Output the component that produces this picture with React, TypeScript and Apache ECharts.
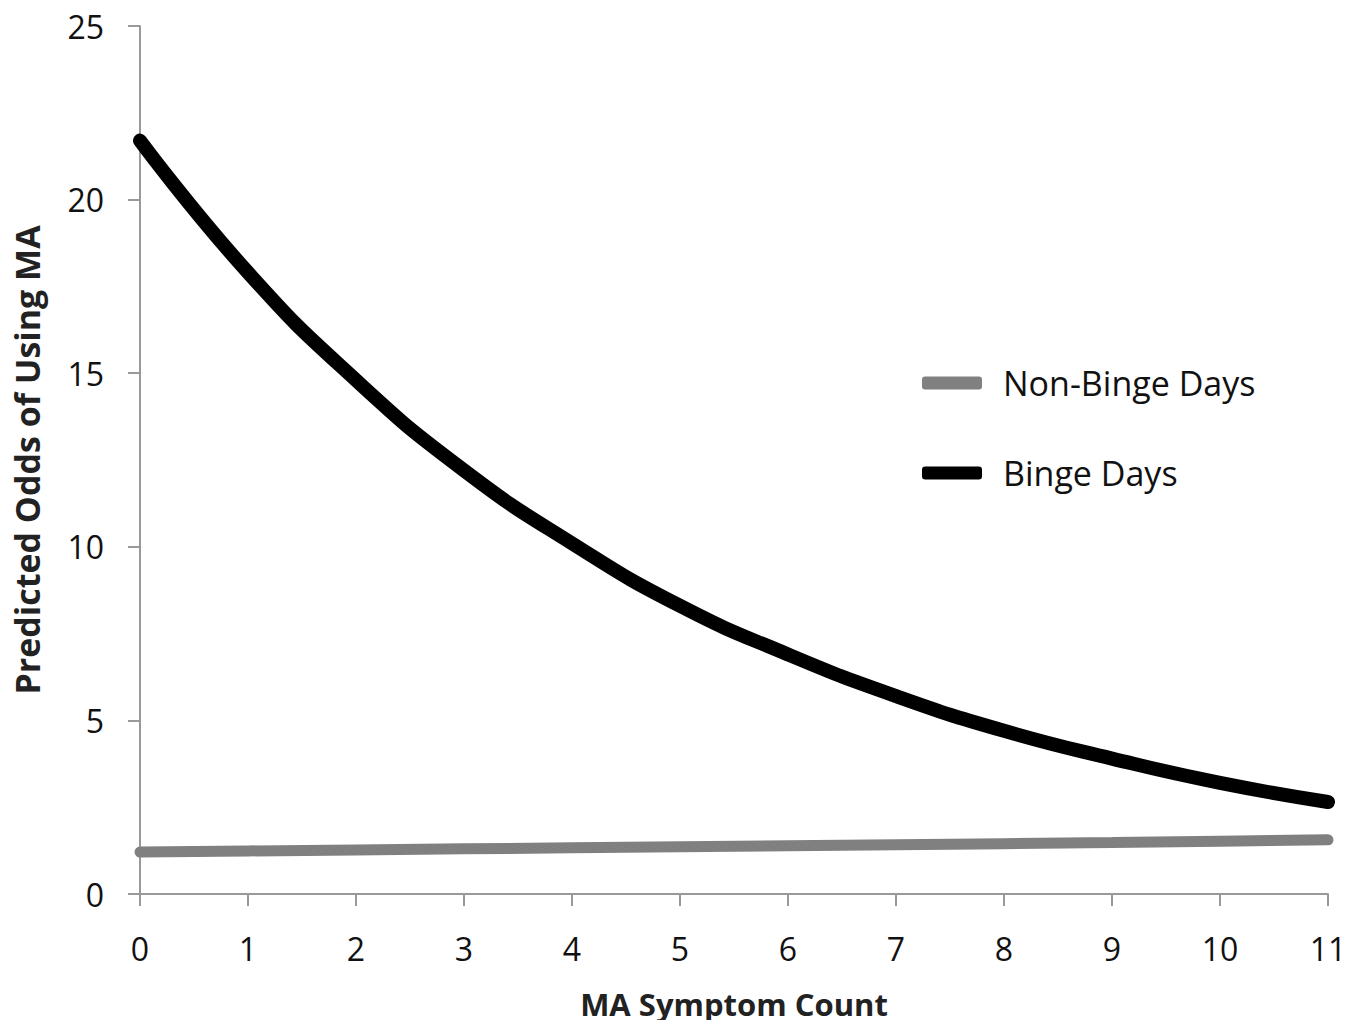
import React, { useEffect, useRef } from "react";
import * as echarts from "echarts";

const categories = ["0", "1", "2", "3", "4", "5", "6", "7", "8", "9", "10", "11"];
const nonBingeDays = [1.21, 1.24, 1.27, 1.3, 1.33, 1.36, 1.39, 1.42, 1.45, 1.48, 1.52, 1.56];
const bingeDays = [21.7, 17.9, 14.8, 12.2, 10.1, 8.3, 6.9, 5.7, 4.7, 3.9, 3.2, 2.65];
const yTicks = [0, 5, 10, 15, 20, 25];

const FONT = "'Open Sans', 'Noto Sans', sans-serif";

export default function App() {
  const ref = useRef<HTMLDivElement>(null);
  useEffect(() => {
    const chart = echarts.init(ref.current!, null, { renderer: "svg" });
    chart.setOption({
      animation: false,
      backgroundColor: "#ffffff",
      grid: { left: 140, right: 38, top: 26, bottom: 134, containLabel: false },
      legend: {
        orient: "vertical",
        left: 922,
        top: 366,
        padding: 0,
        itemWidth: 60,
        itemHeight: 13,
        itemGap: 56,
        icon: "roundRect",
        textStyle: { fontFamily: FONT, fontSize: 34, lineHeight: 34, color: "#111", padding: [0, 0, 0, 16] },
        data: ["Non-Binge Days", "Binge Days"],
      },
      xAxis: {
        type: "category",
        data: categories,
        boundaryGap: false,
        name: "MA Symptom Count",
        nameLocation: "middle",
        nameGap: 94,
        nameTextStyle: { fontFamily: FONT, fontSize: 31, lineHeight: 32, fontWeight: "bold", color: "#222" },
        axisLine: { lineStyle: { color: "#999", width: 2 } },
        axisTick: { show: true, alignWithLabel: true, length: 12, lineStyle: { color: "#999", width: 2 } },
        axisLabel: { fontFamily: FONT, fontSize: 32, lineHeight: 32, color: "#111", margin: 38 },
        splitLine: { show: false },
      },
      yAxis: {
        type: "value",
        min: yTicks[0],
        max: yTicks[yTicks.length - 1],
        interval: 5,
        name: "Predicted Odds of Using MA",
        nameLocation: "middle",
        nameGap: 96,
        nameTextStyle: { fontFamily: FONT, fontSize: 34, lineHeight: 34, fontWeight: "bold", color: "#222" },
        axisLine: { show: true, lineStyle: { color: "#999", width: 2 } },
        axisTick: { show: true, length: 12, lineStyle: { color: "#999", width: 2 } },
        axisLabel: { fontFamily: FONT, fontSize: 32, color: "#111", margin: 36 },
        splitLine: { show: false },
      },
      series: [
        {
          name: "Non-Binge Days",
          type: "line",
          data: nonBingeDays,
          showSymbol: false,
          symbol: "none",
          color: "#808080",
          lineStyle: { color: "#808080", width: 11, cap: "round" },
        },
        {
          name: "Binge Days",
          type: "line",
          data: bingeDays,
          smooth: true,
          showSymbol: false,
          symbol: "none",
          color: "#000000",
          lineStyle: { color: "#000000", width: 14, cap: "round" },
        },
      ],
    });
    return () => chart.dispose();
  }, []);
  return <div ref={ref} style={{ width: 1366, height: 1028, margin: -8 }} />;
}
